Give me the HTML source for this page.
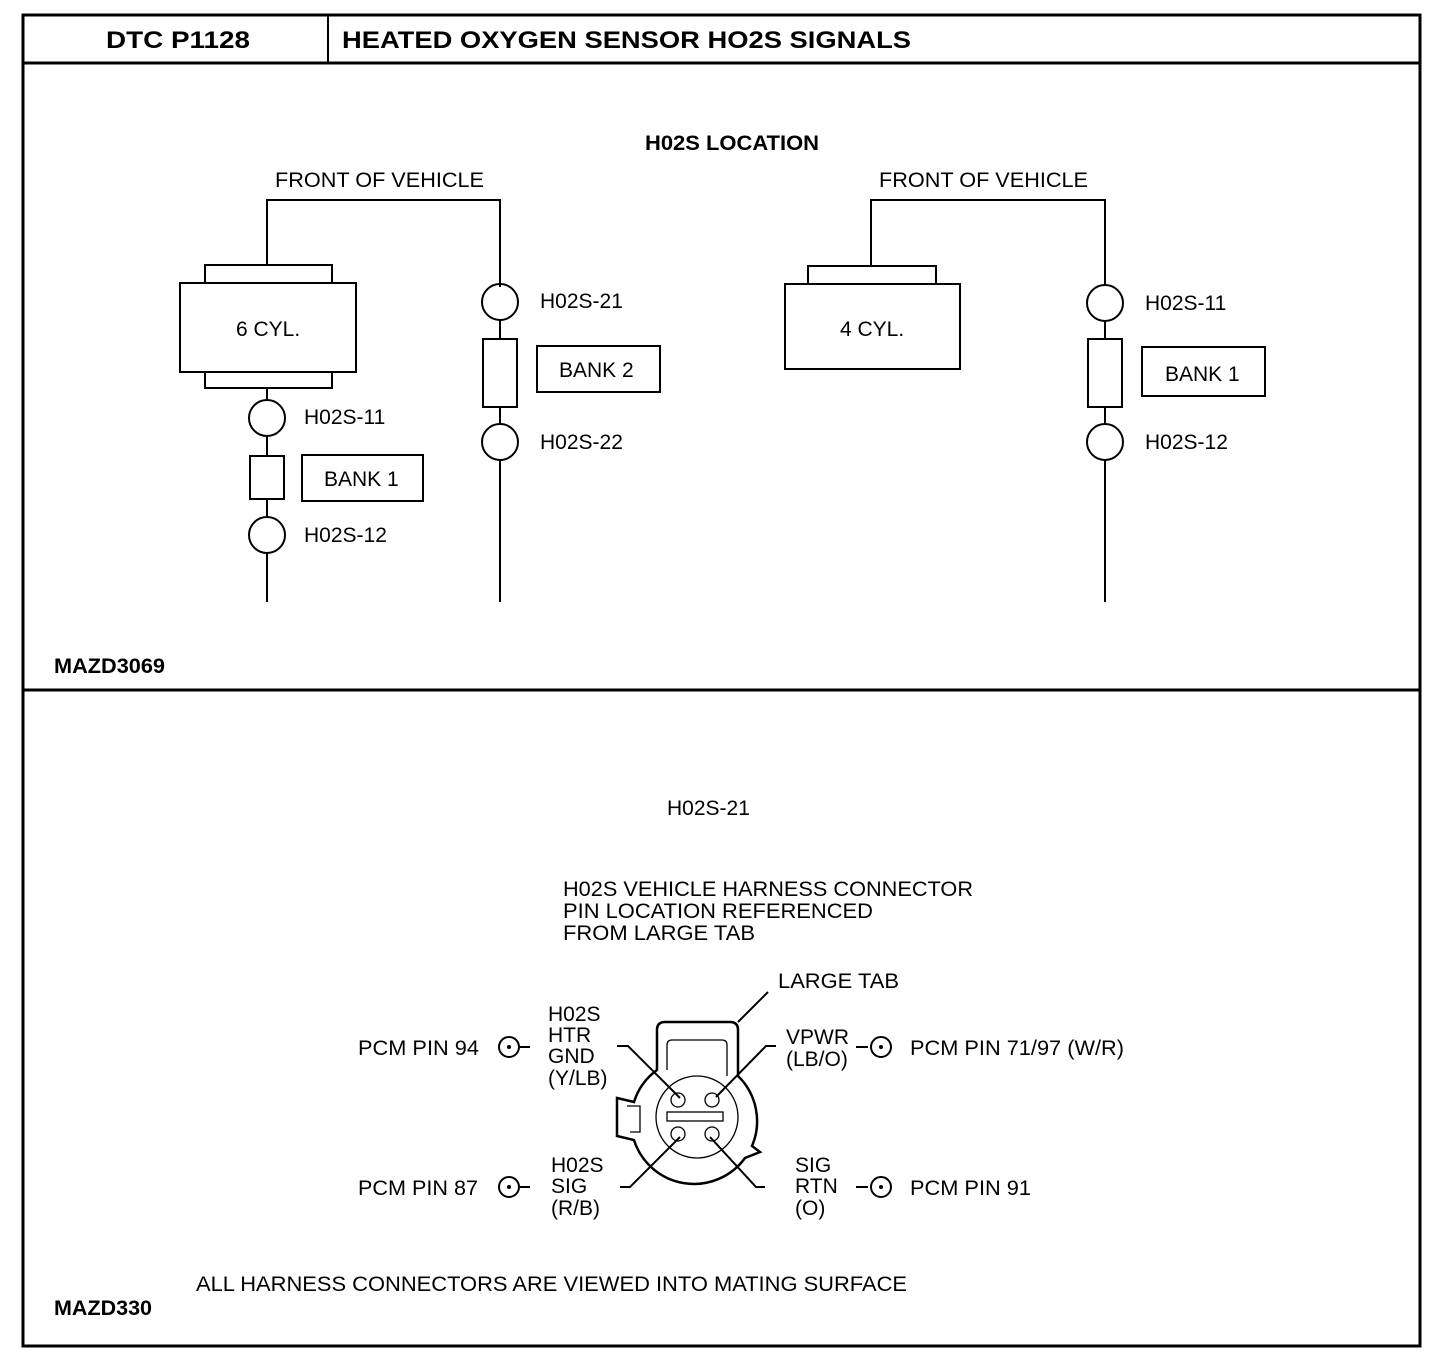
<!DOCTYPE html>
<html><head><style>
body{margin:0;background:#fff}
text{font-family:"Liberation Sans",Arial,sans-serif;fill:#000}
</style></head><body>
<svg width="1456" height="1364" viewBox="0 0 1456 1364" xmlns="http://www.w3.org/2000/svg">
<g fill="none" stroke="#000">
<rect x="23" y="15" width="1397" height="1331" stroke-width="3"/>
<line x1="23" y1="63" x2="1420" y2="63" stroke-width="3"/>
<line x1="328" y1="15" x2="328" y2="63" stroke-width="2"/>
<line x1="23" y1="690" x2="1420" y2="690" stroke-width="3"/>
<g stroke-width="2">
<polyline points="267,265 267,200 500,200 500,287"/>
<rect x="205" y="265" width="127" height="18"/>
<rect x="180" y="283" width="176" height="89"/>
<rect x="205" y="372" width="127" height="16"/>
<line x1="267" y1="388" x2="267" y2="400"/>
<circle cx="267" cy="418" r="18"/>
<line x1="267" y1="436" x2="267" y2="456"/>
<rect x="250" y="456" width="34" height="43"/>
<line x1="267" y1="499" x2="267" y2="517"/>
<circle cx="267" cy="535" r="18"/>
<line x1="267" y1="553" x2="267" y2="602"/>
<rect x="302" y="455" width="121" height="46"/>
<circle cx="500" cy="302" r="18"/>
<line x1="500" y1="320" x2="500" y2="339"/>
<rect x="483" y="339" width="34" height="68"/>
<line x1="500" y1="407" x2="500" y2="424"/>
<circle cx="500" cy="442" r="18"/>
<line x1="500" y1="460" x2="500" y2="602"/>
<rect x="537" y="346" width="123" height="46"/>
<polyline points="871,266 871,200 1105,200 1105,286"/>
<rect x="808" y="266" width="128" height="18"/>
<rect x="785" y="284" width="175" height="85"/>
<circle cx="1105" cy="303" r="18"/>
<line x1="1105" y1="321" x2="1105" y2="339"/>
<rect x="1088" y="339" width="34" height="68"/>
<line x1="1105" y1="407" x2="1105" y2="424"/>
<circle cx="1105" cy="442" r="18"/>
<line x1="1105" y1="460" x2="1105" y2="602"/>
<rect x="1142" y="347" width="123" height="49"/>
</g>
<g stroke-width="2.5">
<path d="M657,1070 L657,1030 Q657,1022 665,1022 L730,1022 Q738,1022 738,1030 L738,1076 A63,63 0 0 1 752,1146 L760,1152 L745,1158 A63,63 0 0 1 634,1140 L617,1136 L617,1098 L634,1102 A63,63 0 0 1 657,1070 Z"/>
</g>
<g stroke-width="1.3">
<path d="M667,1070 L667,1045 Q667,1040 672,1040 L722,1040 Q727,1040 727,1045 L727,1076"/>
<circle cx="697" cy="1117" r="41"/>
<path d="M627,1106 L640,1106 L640,1132 L630,1132"/>
<circle cx="678" cy="1100" r="7"/><circle cx="712" cy="1100" r="7"/>
<circle cx="678" cy="1134" r="7"/><circle cx="712" cy="1134" r="7"/>
<rect x="667" y="1112" width="56" height="9"/>
</g>
<g stroke-width="2">
<polyline points="738,1022 768,992"/>
<polyline points="617,1046 628,1046 680,1098"/>
<polyline points="776,1046 766,1046 716,1097"/>
<polyline points="620,1187 630,1187 680,1137"/>
<polyline points="765,1187 756,1187 710,1137"/>
<line x1="520" y1="1047" x2="530" y2="1047"/>
<line x1="520" y1="1187" x2="530" y2="1187"/>
<line x1="856" y1="1047" x2="868" y2="1047"/>
<line x1="856" y1="1187" x2="868" y2="1187"/>
<circle cx="509" cy="1047" r="10"/>
<circle cx="509" cy="1187" r="10"/>
<circle cx="881" cy="1047" r="10"/>
<circle cx="881" cy="1187" r="10"/>
</g>
</g>
<g fill="#000">
<circle cx="509" cy="1047" r="2"/><circle cx="509" cy="1187" r="2"/>
<circle cx="881" cy="1047" r="2"/><circle cx="881" cy="1187" r="2"/>
</g>
<g font-size="24" font-weight="bold">
<text x="106" y="48" textLength="144" lengthAdjust="spacingAndGlyphs">DTC  P1128</text>
<text x="342" y="48" textLength="569" lengthAdjust="spacingAndGlyphs">HEATED OXYGEN SENSOR HO2S SIGNALS</text>
</g>
<g font-size="21">
<text x="645" y="150" font-weight="bold" textLength="174" lengthAdjust="spacingAndGlyphs">H02S LOCATION</text>
<text x="275" y="187" textLength="209" lengthAdjust="spacingAndGlyphs">FRONT OF VEHICLE</text>
<text x="879" y="187" textLength="209" lengthAdjust="spacingAndGlyphs">FRONT OF VEHICLE</text>
<text x="236" y="336">6 CYL.</text>
<text x="840" y="336">4 CYL.</text>
<text x="304" y="424">H02S-11</text>
<text x="324" y="486">BANK 1</text>
<text x="304" y="542">H02S-12</text>
<text x="540" y="308">H02S-21</text>
<text x="559" y="377">BANK 2</text>
<text x="540" y="449">H02S-22</text>
<text x="1145" y="310">H02S-11</text>
<text x="1165" y="381">BANK 1</text>
<text x="1145" y="449">H02S-12</text>
<text x="54" y="673" font-weight="bold" textLength="111" lengthAdjust="spacingAndGlyphs">MAZD3069</text>
<text x="667" y="815">H02S-21</text>
<text x="563" y="896" textLength="410" lengthAdjust="spacingAndGlyphs">H02S VEHICLE HARNESS CONNECTOR</text>
<text x="563" y="918" textLength="310" lengthAdjust="spacingAndGlyphs">PIN LOCATION REFERENCED</text>
<text x="563" y="940" textLength="192" lengthAdjust="spacingAndGlyphs">FROM LARGE TAB</text>
<text x="778" y="988" textLength="121" lengthAdjust="spacingAndGlyphs">LARGE TAB</text>
<text x="548" y="1021">H02S</text>
<text x="548" y="1042">HTR</text>
<text x="548" y="1063">GND</text>
<text x="548" y="1085">(Y/LB)</text>
<text x="358" y="1055" textLength="121" lengthAdjust="spacingAndGlyphs">PCM PIN 94</text>
<text x="786" y="1044">VPWR</text>
<text x="786" y="1066">(LB/O)</text>
<text x="910" y="1055" textLength="214" lengthAdjust="spacingAndGlyphs">PCM PIN 71/97 (W/R)</text>
<text x="551" y="1172">H02S</text>
<text x="551" y="1193">SIG</text>
<text x="551" y="1215">(R/B)</text>
<text x="358" y="1195" textLength="120" lengthAdjust="spacingAndGlyphs">PCM PIN 87</text>
<text x="795" y="1172">SIG</text>
<text x="795" y="1193">RTN</text>
<text x="795" y="1215">(O)</text>
<text x="910" y="1195" textLength="121" lengthAdjust="spacingAndGlyphs">PCM PIN 91</text>
<text x="196" y="1291" textLength="711" lengthAdjust="spacingAndGlyphs">ALL HARNESS CONNECTORS ARE VIEWED INTO MATING SURFACE</text>
<text x="54" y="1315" font-weight="bold" textLength="98" lengthAdjust="spacingAndGlyphs">MAZD330</text>
</g>
</svg>
</body></html>
